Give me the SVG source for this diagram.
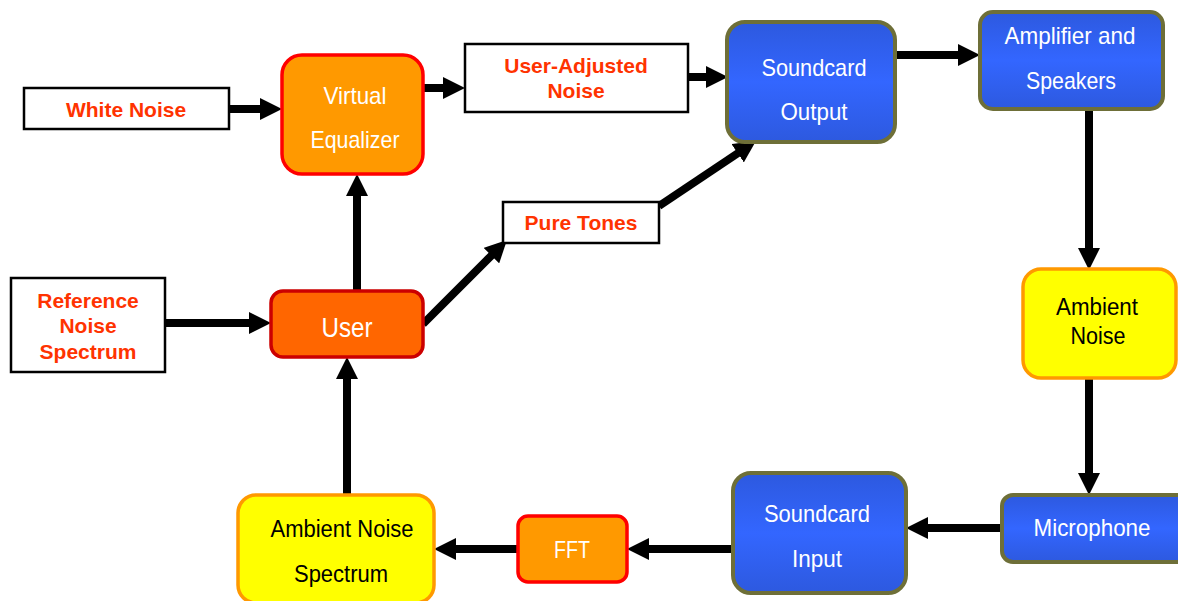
<svg xmlns="http://www.w3.org/2000/svg" width="1178" height="601" viewBox="0 0 1178 601">
<defs>
<linearGradient id="blue" x1="0" y1="0" x2="0" y2="1">
<stop offset="0" stop-color="#2D59DF"/>
<stop offset="0.5" stop-color="#3366FF"/>
<stop offset="1" stop-color="#2D59DF"/>
</linearGradient>
<marker id="ah" markerUnits="userSpaceOnUse" markerWidth="22" markerHeight="22" viewBox="0 0 22 22" refX="10" refY="11" orient="auto">
<path d="M0,0 L22,11 L0,22 z" fill="#000"/>
</marker>
<style>
.wbox{fill:#fff;stroke:#000;stroke-width:2.5}
.blue{fill:url(#blue);stroke:#6E6F38;stroke-width:4}
.orange{fill:#FF9900;stroke:#FF0000;stroke-width:3.5}
.user{fill:#FF6600;stroke:#CC0000;stroke-width:3.5}
.yellow{fill:#FFFF00;stroke:#FF9900;stroke-width:3.5}
.red{font-family:"Liberation Sans",Arial,sans-serif;font-weight:bold;font-size:21px;fill:#FF3300;text-anchor:middle}
.wt{font-family:"Liberation Sans Narrow","Liberation Sans",Arial,sans-serif;font-size:24px;fill:#fff;text-anchor:middle}
.bt{font-family:"Liberation Sans Narrow","Liberation Sans",Arial,sans-serif;font-size:23px;fill:#000;text-anchor:middle}
.conn path{fill:none;stroke:#000;stroke-width:8;marker-end:url(#ah)}
</style>
</defs>
<rect width="1178" height="601" fill="#fff"/>
<g class="conn" id="connectors">
<path d="M229,109 H270"/>
<path d="M423,88 H453"/>
<path d="M688,77 H716"/>
<path d="M895,55 H968"/>
<path d="M1089,109 V258"/>
<path d="M1089,378 V483"/>
<path d="M1002,528 H918"/>
<path d="M733,549 H639"/>
<path d="M518,549 H446"/>
<path d="M347,495 V369"/>
<path d="M165,323 H259"/>
<path d="M357,291 V186"/>
<path d="M423,324 L498.5,248.5"/>
<path d="M659,206 L746,147.7"/>
</g>
<g id="white-noise">
<rect class="wbox" x="24" y="88" width="205" height="41"/>
<text class="red" x="126" y="117">White Noise</text>
</g>
<g id="virtual-equalizer">
<rect class="orange" x="282" y="55" width="141" height="119" rx="20"/>
<text class="wt" x="355" y="104" textLength="63" lengthAdjust="spacingAndGlyphs">Virtual</text>
<text class="wt" x="355" y="148" textLength="89" lengthAdjust="spacingAndGlyphs">Equalizer</text>
</g>
<g id="user-adjusted-noise">
<rect class="wbox" x="465" y="44" width="223" height="68"/>
<text class="red" x="576" y="73">User-Adjusted</text>
<text class="red" x="576" y="98">Noise</text>
</g>
<g id="soundcard-output">
<rect class="blue" x="727" y="22" width="168" height="120" rx="18"/>
<text class="wt" x="814" y="76" textLength="105" lengthAdjust="spacingAndGlyphs">Soundcard</text>
<text class="wt" x="814" y="120" textLength="67" lengthAdjust="spacingAndGlyphs">Output</text>
</g>
<g id="amplifier-speakers">
<rect class="blue" x="980" y="12" width="183" height="97" rx="13"/>
<text class="wt" x="1070" y="44" textLength="131" lengthAdjust="spacingAndGlyphs">Amplifier and</text>
<text class="wt" x="1071" y="89" textLength="90" lengthAdjust="spacingAndGlyphs">Speakers</text>
</g>
<g id="ambient-noise">
<rect class="yellow" x="1023" y="269" width="153" height="109" rx="18"/>
<text class="bt" x="1097" y="315" textLength="82" lengthAdjust="spacingAndGlyphs">Ambient</text>
<text class="bt" x="1098" y="344" textLength="55" lengthAdjust="spacingAndGlyphs">Noise</text>
</g>
<g id="microphone">
<rect class="blue" x="1002" y="495" width="190" height="67" rx="11"/>
<text class="wt" x="1092" y="536" textLength="117" lengthAdjust="spacingAndGlyphs">Microphone</text>
</g>
<g id="soundcard-input">
<rect class="blue" x="733" y="473" width="173" height="120" rx="18"/>
<text class="wt" x="817" y="522" textLength="106" lengthAdjust="spacingAndGlyphs">Soundcard</text>
<text class="wt" x="817" y="567" textLength="50" lengthAdjust="spacingAndGlyphs">Input</text>
</g>
<g id="fft">
<rect class="orange" x="518" y="516" width="109" height="66" rx="10"/>
<text class="wt" x="572" y="558" textLength="36" lengthAdjust="spacingAndGlyphs">FFT</text>
</g>
<g id="ambient-noise-spectrum">
<rect class="yellow" x="238" y="495" width="196" height="108" rx="18"/>
<text class="bt" x="342" y="537" textLength="143" lengthAdjust="spacingAndGlyphs">Ambient Noise</text>
<text class="bt" x="341" y="582" textLength="94" lengthAdjust="spacingAndGlyphs">Spectrum</text>
</g>
<g id="user">
<rect class="user" x="271" y="291" width="152" height="66" rx="12"/>
<text class="wt" x="347" y="337" style="font-size:27px" textLength="51" lengthAdjust="spacingAndGlyphs">User</text>
</g>
<g id="reference-noise-spectrum">
<rect class="wbox" x="11" y="278" width="154" height="94"/>
<text class="red" x="88" y="308">Reference</text>
<text class="red" x="88" y="333">Noise</text>
<text class="red" x="88" y="359">Spectrum</text>
</g>
<g id="pure-tones">
<rect class="wbox" x="503" y="202" width="156" height="41"/>
<text class="red" x="581" y="230">Pure Tones</text>
</g>
</svg>
